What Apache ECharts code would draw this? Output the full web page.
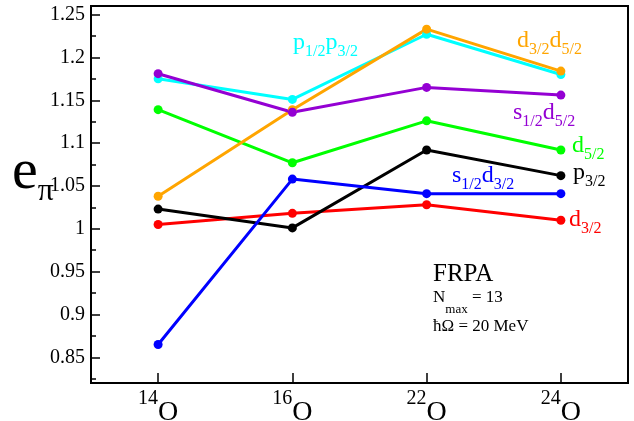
<!DOCTYPE html>
<html>
<head>
<meta charset="UTF-8">
<title>e_pi FRPA</title>
<script src="https://cdn.jsdelivr.net/npm/echarts@6/dist/echarts.min.js"></script>
<style>
  body { margin: 0; background: #fff; }
  #chart { width: 634px; height: 421px; }
</style>
</head>
<body>
<div id="chart"></div>
<script>
// isotopes (mass number, element is O)
var massNumbers = ['14', '16', '22', '24'];

// e_pi per orbital combination
var d32     = [1.005, 1.018, 1.028, 1.010];
var p32     = [1.023, 1.001, 1.092, 1.062];
var s12d32  = [0.865, 1.058, 1.041, 1.041];
var d52     = [1.139, 1.077, 1.126, 1.092];
var p12p32  = [1.175, 1.151, 1.227, 1.180];
var d32d52  = [1.038, 1.139, 1.233, 1.184];
var s12d52  = [1.181, 1.136, 1.165, 1.156];

var majorTicks = [0.85, 0.9, 0.95, 1, 1.05, 1.1, 1.15, 1.2, 1.25];
var minorTicks = [0.825, 0.875, 0.925, 0.975, 1.025, 1.075, 1.125, 1.175, 1.225];

var serif = 'Liberation Serif';

function line(name, data, color) {
    return {
        name: name,
        type: 'line',
        data: data,
        symbol: 'circle',
        symbolSize: 9,
        lineStyle: { color: color, width: 3 },
        itemStyle: { color: color },
        emphasis: { disabled: true }
    };
}

// big letters + subscripts
var big = { fontFamily: serif, fontSize: 24, lineHeight: 24, verticalAlign: 'top' };
var sub = { fontFamily: serif, fontSize: 16, lineHeight: 41, verticalAlign: 'middle' };

function label(x, y, text, color) {
    return {
        type: 'text', left: x, top: y,
        style: {
            text: text,
            fill: color,
            rich: {
                a: Object.assign({ color: color }, big),
                b: Object.assign({ color: color }, sub)
            }
        }
    };
}

var myChart = echarts.init(document.getElementById('chart'));
var option = {
    animation: false,
    grid: {
        left: 91, right: 6, top: 6, bottom: 38,
        containLabel: false, outerBoundsMode: 'none',
        show: true, borderColor: '#000', borderWidth: 2
    },
    xAxis: {
        type: 'category',
        data: massNumbers,
        boundaryGap: true,
        axisLine: { show: true, lineStyle: { color: '#000', width: 2 } },
        axisTick: { show: true, alignWithLabel: true, inside: true, length: 10, lineStyle: { color: '#000', width: 1.5 } },
        axisLabel: {
            margin: 6,
            formatter: function (v) { return '{s|' + v + '}{o|O}'; },
            rich: {
                s: { fontFamily: serif, fontSize: 20, lineHeight: 13, verticalAlign: 'top', color: '#000' },
                o: { fontFamily: serif, fontSize: 28, lineHeight: 47, verticalAlign: 'middle', color: '#000' }
            }
        },
        splitLine: { show: false }
    },
    yAxis: [{
        type: 'value',
        min: 0.82,
        max: 1.26,
        axisLine: { show: true, lineStyle: { color: '#000', width: 2 } },
        axisTick: { show: true, inside: true, length: 9, customValues: majorTicks, lineStyle: { color: '#000', width: 1.5 } },
        axisLabel: { customValues: majorTicks, margin: 6, fontFamily: serif, fontSize: 20, color: '#000' },
        splitLine: { show: false }
    }, {
        type: 'value',
        min: 0.82,
        max: 1.26,
        position: 'left',
        axisLine: { show: false },
        axisTick: { show: true, inside: true, length: 5, customValues: minorTicks, lineStyle: { color: '#000', width: 1.5 } },
        axisLabel: { show: false },
        splitLine: { show: false }
    }],
    series: [
        line('d3/2', d32, '#ff0000'),
        line('p3/2', p32, '#000000'),
        line('s1/2d3/2', s12d32, '#0000ff'),
        line('d5/2', d52, '#00ff00'),
        line('p1/2p3/2', p12p32, '#00ffff'),
        line('d3/2d5/2', d32d52, '#ffa500'),
        line('s1/2d5/2', s12d52, '#9400d3')
    ],
    graphic: [
        label(293, 31, '{a|p}{b|1/2}{a|p}{b|3/2}', '#00ffff'),
        label(517, 29, '{a|d}{b|3/2}{a|d}{b|5/2}', '#ffa500'),
        label(513, 101, '{a|s}{b|1/2}{a|d}{b|5/2}', '#9400d3'),
        label(572, 134, '{a|d}{b|5/2}', '#00ff00'),
        label(573, 161, '{a|p}{b|3/2}', '#000000'),
        label(452, 164, '{a|s}{b|1/2}{a|d}{b|3/2}', '#0000ff'),
        label(569, 208, '{a|d}{b|3/2}', '#ff0000'),
        {
            type: 'text', left: 433, top: 262,
            style: { text: 'FRPA', font: '25px "Liberation Serif"', fill: '#000' }
        },
        {
            type: 'text', left: 433, top: 289,
            style: {
                text: '{n|N}{m|max}{n| = 13}',
                rich: {
                    n: { fontFamily: serif, fontSize: 17, lineHeight: 17, verticalAlign: 'top', color: '#000' },
                    m: { fontFamily: serif, fontSize: 13, lineHeight: 42, verticalAlign: 'middle', color: '#000' }
                }
            }
        },
        {
            type: 'text', left: 433, top: 318,
            style: { text: 'ħΩ = 20 MeV', font: '17px "Liberation Serif"', fill: '#000' }
        },
        {
            type: 'text', left: 12, top: 144,
            style: {
                text: '{e|e}{p|π}',
                rich: {
                    e: { fontFamily: serif, fontSize: 58, lineHeight: 58, verticalAlign: 'top', color: '#000' },
                    p: { fontFamily: serif, fontSize: 32, lineHeight: 96, verticalAlign: 'middle', color: '#000' }
                }
            }
        }
    ]
};
myChart.setOption(option);
</script>
</body>
</html>
